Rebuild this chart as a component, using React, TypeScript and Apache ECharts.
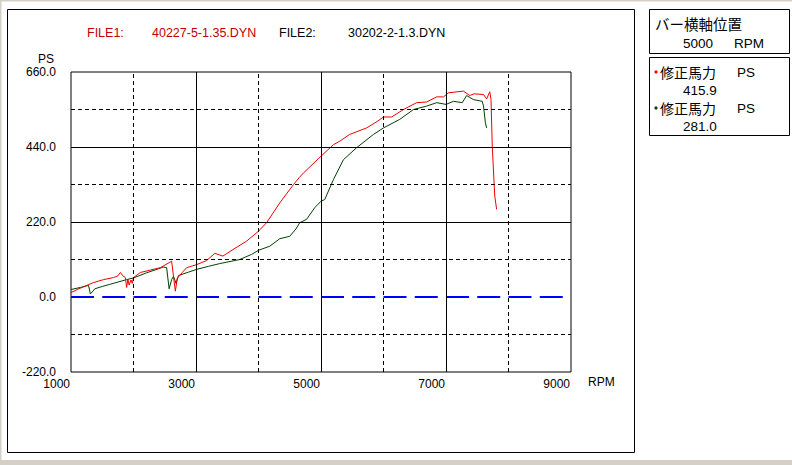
import React, { useEffect, useRef } from "react";
import * as echarts from "echarts";

// ---- data ----
const redRpm = [1000, 1100, 1200, 1355, 1520, 1680, 1750, 1790, 1830, 1870, 1890, 1910, 1930, 1960, 1980, 2000, 2110, 2250, 2430, 2610, 2640, 2670, 2700, 2730, 2780, 2850, 3010, 3170, 3300, 3350, 3430, 3590, 3810, 4000, 4130, 4340, 4560, 4650, 4720, 5000, 5200, 5300, 5460, 5730, 5900, 6000, 6130, 6320, 6530, 6690, 6850, 6960, 7040, 7280, 7380, 7450, 7600, 7650, 7700, 7720, 7740, 7780, 7810];
const redPs = [13, 22, 30, 42, 51, 57, 62, 72, 62, 57, 28, 52, 35, 50, 40, 57, 72, 78, 86, 105, 60, 17, 55, 61, 72, 86, 95, 107, 128, 125, 120, 139, 164, 193, 218, 276, 330, 350, 364, 413, 447, 457, 477, 496, 515, 528, 528, 550, 570, 572, 587, 587, 599, 604, 591, 596, 594, 581, 602, 580, 442, 296, 257];

const greenRpm = [1000, 1150, 1280, 1310, 1340, 1380, 1500, 1620, 1890, 2000, 2210, 2480, 2530, 2570, 2610, 2640, 2680, 2720, 2880, 3010, 3200, 3380, 3700, 3800, 3890, 4000, 4180, 4340, 4500, 4600, 4660, 4770, 4900, 5000, 5060, 5200, 5360, 5570, 5840, 6000, 6260, 6480, 6690, 6850, 7000, 7120, 7260, 7330, 7440, 7580, 7600, 7630, 7650];
const greenPs = [22, 28, 34, 9, 15, 24, 31, 37, 51, 56, 71, 88, 86, 24, 51, 61, 40, 63, 73, 81, 90, 98, 110, 118, 125, 137, 149, 171, 178, 200, 218, 228, 262, 281, 286, 345, 403, 438, 477, 496, 521, 550, 560, 570, 565, 574, 570, 591, 579, 574, 560, 511, 496];

const xMin = 1000, xMax = 9000, xStep = 2000;
const yMin = -220, yMax = 660, yStep = 220;
const solidX = [3000, 5000, 7000];
const dashedX = [2000, 4000, 6000, 8000];
const solidY = [220, 440];
const dashedY = [-110, 110, 330, 550];
const zeroY = 0;

const file1Label = "FILE1:";
const file1Name = "40227-5-1.35.DYN";
const file2Label = "FILE2:";
const file2Name = "30202-2-1.3.DYN";
const barTitle = "バー横軸位置";
const barRpm = "5000";
const seriesName = "修正馬力";
const unit = "PS";
const xUnit = "RPM";
const redAt = "415.9";
const greenAt = "281.0";

const FONT = "'Liberation Sans', Arial, sans-serif";
const CJK = "'Noto Sans CJK JP', sans-serif";

export default function App() {
  const ref = useRef<HTMLDivElement>(null);
  useEffect(() => {
    if (!ref.current) return;
    const chart = echarts.init(ref.current, undefined, { renderer: "svg" });
    const dash = [4, 3];
    const mlData: any[] = [
      ...solidX.map((v) => ({ xAxis: v, lineStyle: { color: "#000", width: 1, type: "solid" } })),
      ...dashedX.map((v) => ({ xAxis: v, lineStyle: { color: "#000", width: 1, type: dash } })),
      ...solidY.map((v) => ({ yAxis: v, lineStyle: { color: "#000", width: 1, type: "solid" } })),
      ...dashedY.map((v) => ({ yAxis: v, lineStyle: { color: "#000", width: 1, type: dash } })),
    ];
    const txt = (x: number, y: number, text: string, fill = "#000", size = 12, family = FONT, align = "left") => ({
      type: "text",
      x,
      y,
      style: { text, fill, font: `${size}px ${family}`, lineHeight: size, textAlign: align, textVerticalAlign: "middle" },
      silent: true,
    });
    chart.setOption({
      animation: false,
      backgroundColor: "#fff",
      grid: { left: 71, top: 72, width: 500, height: 300, show: true, borderColor: "#000", borderWidth: 1, backgroundColor: "transparent" },
      xAxis: {
        type: "value",
        min: xMin,
        max: xMax,
        interval: xStep,
        axisLine: { show: false },
        axisTick: { show: false },
        splitLine: { show: false },
        axisLabel: { color: "#000", fontFamily: FONT, fontSize: 12, lineHeight: 12, align: "right", margin: 6, padding: [0, 1, 0, 0], formatter: (v: number) => String(v) },
      },
      yAxis: {
        type: "value",
        min: yMin,
        max: yMax,
        interval: yStep,
        axisLine: { show: false },
        axisTick: { show: false },
        splitLine: { show: false },
        axisLabel: { color: "#000", fontFamily: FONT, fontSize: 12, lineHeight: 12, margin: 15, padding: [0, 0, 2, 0], formatter: (v: number) => v.toFixed(1) },
      },
      series: [
        {
          type: "line",
          data: [],
          z: 1,
          silent: true,
          markLine: { silent: true, symbol: ["none", "none"], label: { show: false }, data: mlData, animation: false },
        },
        {
          name: "zero",
          type: "line",
          z: 2,
          silent: true,
          data: [[xMin, zeroY], [xMax, zeroY]],
          showSymbol: false,
          lineStyle: { color: "#0000ff", width: 2, type: [23, 8.25] },
        },
        {
          name: "FILE2",
          type: "line",
          z: 3,
          data: greenRpm.map((r, i) => [r, greenPs[i]]),
          showSymbol: false,
          lineStyle: { color: "#004000", width: 1 },
        },
        {
          name: "FILE1",
          type: "line",
          z: 4,
          data: redRpm.map((r, i) => [r, redPs[i]]),
          showSymbol: false,
          lineStyle: { color: "#f00000", width: 1 },
        },
      ],
      graphic: [
        { type: "rect", shape: { x: 0, y: 0, width: 792, height: 1.5 }, style: { fill: "#d4d0c8" }, silent: true },
        { type: "rect", shape: { x: 0, y: 0, width: 1.5, height: 465 }, style: { fill: "#d4d0c8" }, silent: true },
        { type: "rect", shape: { x: 0, y: 460, width: 792, height: 5 }, style: { fill: "#d4d0c8" }, silent: true },
        { type: "rect", shape: { x: 7.5, y: 9.5, width: 627, height: 443 }, style: { fill: "none", stroke: "#000", lineWidth: 1 }, silent: true },
        { type: "rect", shape: { x: 649.5, y: 9.5, width: 140, height: 44 }, style: { fill: "none", stroke: "#000", lineWidth: 1 }, silent: true },
        { type: "rect", shape: { x: 649.5, y: 57.5, width: 140, height: 78 }, style: { fill: "none", stroke: "#000", lineWidth: 1 }, silent: true },
        txt(87, 33, file1Label, "#c00000", 12.5),
        txt(152, 33, file1Name, "#c00000", 12.5),
        txt(279, 33, file2Label, "#000", 12.5),
        txt(348, 33, file2Name, "#000", 12.5),
        txt(54, 59, unit, "#000", 12, FONT, "right"),
        txt(588, 382, xUnit, "#000"),
        txt(655, 23, barTitle, "#000", 14.5, CJK),
        txt(683, 43, barRpm, "#000", 13.5),
        txt(734, 43, xUnit, "#000", 13.5),
        { type: "circle", shape: { cx: 656, cy: 72, r: 1.6 }, style: { fill: "#ff0000" }, silent: true },
        txt(660, 72, seriesName, "#000", 14, CJK),
        txt(737, 72, unit, "#000", 13.5),
        txt(683, 90, redAt, "#000", 13.5),
        { type: "circle", shape: { cx: 656, cy: 108, r: 1.6 }, style: { fill: "#004000" }, silent: true },
        txt(660, 108, seriesName, "#000", 14, CJK),
        txt(737, 108, unit, "#000", 13.5),
        txt(683, 126, greenAt, "#000", 13.5),
      ],
    });
    return () => chart.dispose();
  }, []);
  return <div ref={ref} style={{ position: "absolute", left: 0, top: 0, width: 792, height: 465 }} />;
}
